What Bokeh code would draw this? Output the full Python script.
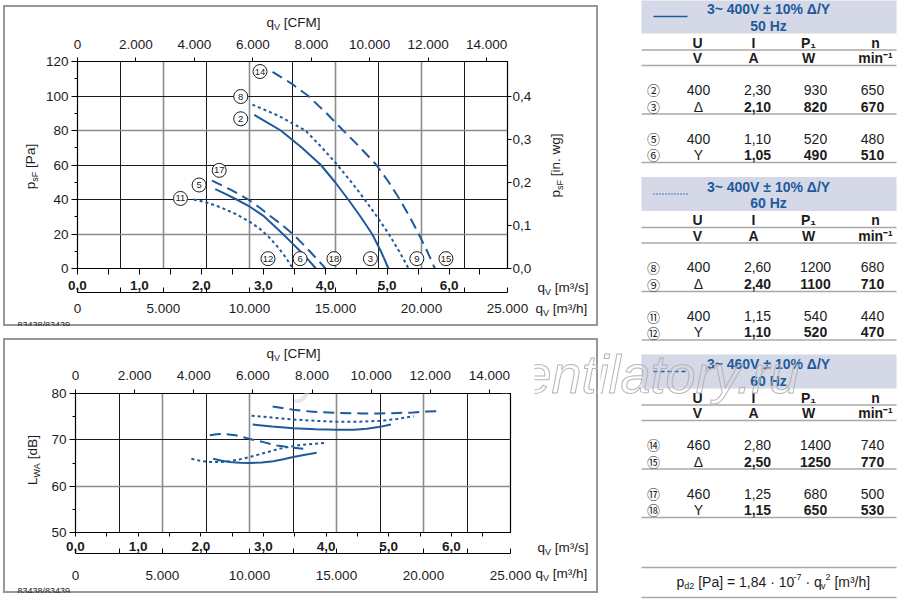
import math
from bokeh.plotting import figure
from bokeh.models import (Range1d, LinearAxis, FixedTicker, Label, Grid, Plot,
                          CustomJSTickFormatter, ColumnDataSource, Text)
from bokeh.layouts import row, column
from bokeh.embed import file_html
from bokeh.resources import INLINE
from bokeh.core.properties import value
try:
    from bokeh.models import HTMLLabel
except ImportError:
    HTMLLabel = None

# ------------------------------------------------------------------ data
Q_MAX = 25000.0            # m³/h at the right end of the q axes
M3H_PER_M3S = 3600.0
M3H_PER_CFM = 1.699011
PA_PER_INWG = 249.0889

ticks_m3h = [0, 5000, 10000, 15000, 20000, 25000]
minor_m3h = [2500, 7500, 12500, 17500, 22500]
ticks_m3s = [0, 1, 2, 3, 4, 5, 6]
minor_m3s = [0.5, 1.5, 2.5, 3.5, 4.5, 5.5, 6.5]
ticks_cfm = [0, 2000, 4000, 6000, 8000, 10000, 12000, 14000]
ticks_pa = [0, 20, 40, 60, 80, 100, 120]
minor_pa = [10, 30, 50, 70, 90, 110]
ticks_inwg = [0.0, 0.1, 0.2, 0.3, 0.4]
ticks_db = [50, 60, 70, 80]
minor_db = [55, 65, 75]
grid_q_dark = [2500, 7500, 12500, 17500, 22500]
grid_q_grey = [5000, 10000, 15000, 20000]
grid_pa_dark = [40, 60, 100]
grid_pa_grey = [20, 80]
grid_db_dark = [70]
grid_db_grey = [60]

# static pressure p_sF [Pa] over q_V [m³/h]
q_c2 = [10280, 11820, 13050, 14150, 14980, 15740, 16460, 17130, 17640, 18080]
p_c2 = [89, 80, 70, 60, 50, 40, 30, 20, 10, 0]
q_c8 = [10170, 11700, 13250, 14220, 15110, 15930, 16700, 17420, 18100, 18700, 19250]
p_c8 = [95, 88.5, 80, 70, 60, 50, 40, 30, 20, 10, 0]
q_c14 = [11340, 12400, 13420, 14480, 15450, 16450, 17380, 18100, 18740, 19310, 19840, 20330, 20780]
p_c14 = [114, 107.5, 100, 90, 80, 70, 60, 50, 40, 30, 20, 10, 0]
q_c5 = [8010, 8600, 9250, 10020, 10790, 11400, 11940, 12450, 12950, 13420, 13860]
p_c5 = [46, 43.3, 40, 35.8, 30.7, 25.1, 20, 15, 10, 5, 0]
q_c17 = [7820, 8900, 9930, 10560, 11170, 11860, 12520, 13020, 13500, 13970, 14420]
p_c17 = [51, 45.7, 40, 35.5, 30.7, 25.5, 20, 15, 10, 5, 0]
q_c11 = [6760, 7500, 8290, 9200, 10020, 10600, 11100, 11600, 12080, 12520]
p_c11 = [40, 38.3, 35.6, 31.6, 27, 23, 18.5, 13, 6.8, 0]

# sound power L_WA [dB] over q_V [m³/h]
q_l14 = [11330, 12000, 12520, 13500, 15020, 16500, 17510, 18500, 19430, 20200, 20780]
l_l14 = [77.2, 76.8, 76.5, 76.1, 75.8, 75.7, 75.7, 75.8, 75.9, 76.1, 76.2]
q_l8 = [10120, 11300, 12520, 13800, 15020, 16300, 17510, 18500, 19430]
l_l8 = [75.2, 74.8, 74.4, 74.1, 73.9, 73.9, 74.1, 74.5, 75.1]
q_l2 = [10180, 11300, 12520, 13800, 15020, 16000, 16740, 17500, 18130]
l_l2 = [73.3, 72.9, 72.5, 72.3, 72.2, 72.2, 72.4, 72.8, 73.3]
q_l17 = [7720, 8100, 8490, 9200, 10020, 10800, 11560, 12520, 13090]
l_l17 = [71.0, 71.2, 71.3, 71.0, 70.2, 69.5, 68.8, 68.3, 68.1]
q_l11 = [6660, 7150, 7720, 8290, 8870, 9450, 10020, 10600, 11170, 11750, 12330, 12900, 13670, 14440]
l_l11 = [65.9, 65.5, 65.2, 65.2, 65.4, 65.8, 66.3, 66.9, 67.5, 68.1, 68.5, 68.9, 69.1, 69.4]
q_l5 = [7910, 8400, 8870, 9450, 10020, 10700, 11370, 11950, 12520, 13200, 13860]
l_l5 = [65.9, 65.5, 65.2, 65.05, 65.0, 65.1, 65.4, 65.8, 66.3, 66.8, 67.2]

# operating point markers in the pressure chart
lab_txt = ["14", "8", "2", "17", "5", "11", "12", "6", "18", "3", "9", "15"]
lab_q = [10610, 9490, 9490, 8240, 7070, 5985, 11075, 12940, 14910, 17030, 19730, 21420]
lab_p = [114.2, 99.7, 86.8, 56.9, 48.4, 40.6, 5.7, 5.7, 5.7, 5.7, 5.7, 5.7]

# table
tbl_title = ["3~ 400V ± 10% Δ/Y", "3~ 400V ± 10% Δ/Y", "3~ 460V ± 10% Δ/Y"]
tbl_freq = ["50 Hz", "60 Hz", "60 Hz"]
tbl_style = ["solid", "dotted", "dashed"]
tbl_head1 = ["U", "I", "P₁", "n"]
tbl_head2 = ["V", "A", "W", "min⁻¹"]
tbl_num = [["②", "③", "⑤", "⑥"], ["⑧", "⑨", "⑪", "⑫"], ["⑭", "⑮", "⑰", "⑱"]]
tbl_U = [["400", "Δ", "400", "Y"], ["400", "Δ", "400", "Y"], ["460", "Δ", "460", "Y"]]
tbl_I = [["2,30", "2,10", "1,10", "1,05"], ["2,60", "2,40", "1,15", "1,10"], ["2,80", "2,50", "1,25", "1,15"]]
tbl_P = [["930", "820", "520", "490"], ["1200", "1100", "540", "520"], ["1400", "1250", "680", "650"]]
tbl_n = [["650", "670", "480", "510"], ["680", "710", "440", "470"], ["740", "770", "500", "530"]]
drawing_no = "83438/83439"
watermark = "ventilatory.ru"

# ------------------------------------------------------------------ style
FONT = "Liberation Sans"
INK = "#1c1c1c"
BLUE = "#1e5a9c"
GRID_DARK = "#1a1a1a"
GRID_GREY = "#8c8c8c"
BOX_GREY = "#979797"
BAND = "#d4d8e7"
SEP = "#a8a8a8"
WM_GREY = "#b4b4b4"
DASH = {"solid": "solid", "dotted": "3 3", "dashed": "11 6"}
LEG_DASH = {"solid": "solid", "dotted": "1 2", "dashed": "4 3"}
FMT_THOUS = "return tick == 0 ? '0' : (tick / 1000).toFixed(3);"
FMT_DEC1 = "return tick.toFixed(1).replace('.', ',');"
HAS_OUTLINE_T = "text_outline_color" in Text.properties()
NO_ALIGN = {"frame_align": False} if "frame_align" in Plot.properties() else {}
MID = 0.3465            # em distance from alphabetic baseline up to the text middle

EM = {" ": .278, "[": .278, "]": .278, ".": .278, ",": .278, "/": .278, "=": .584, "·": .278,
      "³": .333, "²": .333, "-": .333, "a": .556, "b": .556, "c": .5, "d": .556, "e": .556,
      "g": .556, "h": .556, "i": .222, "l": .222, "m": .833, "n": .556, "o": .556, "p": .556,
      "q": .556, "r": .333, "s": .5, "t": .278, "u": .556, "v": .5, "w": .722, "y": .5,
      "A": .667, "B": .667, "C": .722, "F": .611, "L": .556, "M": .833, "P": .667, "V": .667,
      "W": .944, "Y": .667}


def tw(s, size):
    return sum(EM.get(c, 0.556) for c in s) * size


def rich(p, x, y, parts, anchor="left", angle=0.0):
    """text pieces (text, px size, baseline shift) drawn as glyphs; (x, y) = page baseline"""
    total = sum(tw(t, s) for t, s, _ in parts)
    pos = -{"left": 0.0, "center": total / 2.0, "right": total}[anchor]
    for t, s, shift in parts:
        st = t.lstrip(" ")
        pos += tw(t[:len(t) - len(st)], s)
        d = shift - MID * s
        if angle == 0:
            lx, ly = x + pos, y + d
        else:
            lx, ly = x + d, y - pos
        p.text([lx], [ly], text=[st], angle=angle, text_font=value(FONT),
               text_font_size=f"{s}px", text_color=INK, text_align="left",
               text_baseline="middle")
        pos += tw(st, s)


WM_SIZE = 54
WM_BASE = 392
WM_X = [78, 494]


def wm_glyph(p, xs):
    r = p.text(xs, [WM_BASE - MID * WM_SIZE] * len(xs), text=[watermark] * len(xs),
               text_font=value(FONT), text_font_size=f"{WM_SIZE}px", text_font_style="italic",
               text_baseline="middle", text_align="left")
    if HAS_OUTLINE_T:
        r.glyph.text_color = (255, 255, 255, 0.0)
        r.glyph.text_outline_color = WM_GREY
    else:
        r.glyph.text_color = "#d6d6d6"
        r.glyph.text_alpha = 0.7
    return r


def wm_label(p, cls, wx, outline):
    lb = cls(x=(wx - 75) / 435 * Q_MAX, y=80 - (WM_BASE - MID * WM_SIZE - 393) / 139 * 30,
             text=watermark, text_font=FONT, text_font_size=f"{WM_SIZE}px",
             text_font_style="italic", text_baseline="middle", text_align="left")
    if outline and "text_outline_color" in cls.properties():
        lb.text_color = (255, 255, 255, 0.0)
        lb.text_outline_color = WM_GREY
    else:
        lb.text_color = "#d2d2d2"
        lb.text_alpha = 0.55
    p.add_layout(lb)
    return lb


def strip(x0, y0, w, h):
    """transparent figure whose data coordinates are page pixels"""
    s = figure(width=w, height=h, x_range=Range1d(x0, x0 + w), y_range=Range1d(y0 + h, y0),
               output_backend="svg", toolbar_location=None, title=None,
               x_axis_location=None, y_axis_location=None, min_border=0,
               outline_line_color=None, background_fill_alpha=0.0, border_fill_alpha=0.0,
               **NO_ALIGN)
    s.grid.visible = False
    return s


def add_axis(p, where, ticks, minor, rng, fmt, out, inn, mout, minn, standoff, bold=False):
    ax = LinearAxis(ticker=FixedTicker(ticks=ticks, minor_ticks=minor))
    if where in ("left", "right"):
        ax.y_range_name = rng
    else:
        ax.x_range_name = rng
    if fmt is not None:
        ax.formatter = CustomJSTickFormatter(code=fmt)
    ax.major_tick_out = out
    ax.major_tick_in = inn
    ax.minor_tick_out = mout
    ax.minor_tick_in = minn
    ax.major_label_standoff = standoff
    ax.major_label_text_font = FONT
    ax.major_label_text_font_size = "13.5px"
    ax.major_label_text_font_style = "bold" if bold else "normal"
    ax.major_label_text_color = INK
    ax.axis_line_color = "black"
    ax.major_tick_line_color = "black"
    ax.minor_tick_line_color = "black"
    p.add_layout(ax, where)
    return ax


def add_grid(p, dim, ticks, color, width):
    p.add_layout(Grid(dimension=dim, ticker=FixedTicker(ticks=ticks),
                      grid_line_color=color, grid_line_width=width))


def chart(w, h, yr, top, bottom, left, right):
    p = figure(width=w, height=h, x_range=Range1d(0, Q_MAX), y_range=Range1d(*yr),
               output_backend="svg", toolbar_location=None, title=None,
               x_axis_location=None, y_axis_location=None,
               min_border_left=left, min_border_right=right,
               min_border_top=top, min_border_bottom=bottom,
               background_fill_color="white", border_fill_alpha=0.0,
               outline_line_color="black", outline_line_width=1.2, **NO_ALIGN)
    p.grid.visible = False
    p.extra_x_ranges = {"ms": Range1d(0, Q_MAX / M3H_PER_M3S),
                        "cfm": Range1d(0, Q_MAX / M3H_PER_CFM)}
    add_grid(p, 0, grid_q_grey, GRID_GREY, 1.6)
    add_grid(p, 0, grid_q_dark, GRID_DARK, 1)
    return p


def q_parts(unit):
    return [("q", 13.5, 0), ("V", 9, 3), (" [" + unit + "]", 13.5, 0)]


BOX_STYLE = {"box-shadow": "inset 0 0 0 2px " + BOX_GREY}

# ------------------------------------------------------------------ pressure chart box
# box on page: x 3..598, y 5..326 ; plot frame: x 76..510, y 61..268
t1 = strip(3, 5, 595, 27)
l1 = strip(3, 32, 39, 285)
r1 = strip(534, 32, 64, 285)
b1 = strip(3, 317, 595, 9)
p1 = chart(492, 285, (0, 120), 29, 49, 34, 24)
p1.extra_y_ranges = {"inwg": Range1d(0, 120 / PA_PER_INWG)}
add_grid(p1, 1, grid_pa_grey, GRID_GREY, 1.6)
add_grid(p1, 1, grid_pa_dark, GRID_DARK, 1)
add_axis(p1, "left", ticks_pa, minor_pa, "default", None, 6, 0, 3, 0, 3)
add_axis(p1, "right", ticks_inwg, [], "inwg", FMT_DEC1, 4, 0, 0, 0, 1)
add_axis(p1, "above", ticks_cfm, [], "cfm", FMT_THOUS, 4, 0, 0, 0, 9)
add_axis(p1, "below", ticks_m3s, minor_m3s, "ms", FMT_DEC1, 6, 0, 6, 0, 6, bold=True)
add_axis(p1, "below", ticks_m3h, minor_m3h, "default", FMT_THOUS, 0, 5, 0, 5, 11)

for q, pv, st in [(q_c2, p_c2, "solid"), (q_c8, p_c8, "dotted"), (q_c14, p_c14, "dashed"),
                  (q_c5, p_c5, "solid"), (q_c17, p_c17, "dashed"), (q_c11, p_c11, "dotted")]:
    p1.line(q, pv, line_color=BLUE, line_width=2, line_dash=DASH[st])

lab_src = ColumnDataSource(dict(q=lab_q, p=lab_p, t=lab_txt))
p1.scatter("q", "p", source=lab_src, size=14, fill_color="white", line_color=INK, line_width=1)
p1.text("q", "p", text="t", source=lab_src, text_align="center", text_baseline="middle",
        text_font=value(FONT), text_font_size="9.5px", text_color=INK)

rich(t1, 293, 27, q_parts("CFM"), anchor="center")
rich(l1, 35, 166, [("p", 13.5, 0), ("sF", 9, 3), (" [Pa]", 13.5, 0)], anchor="center",
     angle=math.pi / 2)
rich(r1, 560, 165, [("p", 13.5, 0), ("sF", 9, 3), (" [in. wg]", 13.5, 0)], anchor="center",
     angle=math.pi / 2)
rich(r1, 537, 291.5, q_parts("m³/s"))
rich(r1, 535, 313, q_parts("m³/h"))
rich(b1, 17, 324.5, [(drawing_no, 9, 0)])

box1 = column(t1, row(l1, p1, r1), b1, margin=(5, 2, 8, 3), styles=BOX_STYLE)

# ------------------------------------------------------------------ sound chart box
# box on page: x 3..598, y 338..593 ; plot frame: x 75..510, y 393..532
t2 = strip(3, 338, 595, 24)
l2 = strip(3, 362, 39, 222)
r2 = strip(534, 362, 64, 222)
b2 = strip(3, 584, 595, 9)
p2 = chart(492, 222, (50, 80), 31, 52, 33, 24)
add_grid(p2, 1, grid_db_grey, GRID_GREY, 1.6)
add_grid(p2, 1, grid_db_dark, GRID_DARK, 1)
add_axis(p2, "left", ticks_db, minor_db, "default", None, 6, 0, 3, 0, 3)
add_axis(p2, "above", ticks_cfm, [], "cfm", FMT_THOUS, 4, 0, 0, 0, 10)
add_axis(p2, "below", ticks_m3s, minor_m3s, "ms", FMT_DEC1, 4, 0, 4, 0, 5, bold=True)
add_axis(p2, "below", ticks_m3h, minor_m3h, "default", FMT_THOUS, 0, 5, 0, 5, 17)

for q, lv, st in [(q_l14, l_l14, "dashed"), (q_l8, l_l8, "dotted"), (q_l2, l_l2, "solid"),
                  (q_l17, l_l17, "dashed"), (q_l11, l_l11, "dotted"), (q_l5, l_l5, "solid")]:
    p2.line(q, lv, line_color=BLUE, line_width=2, line_dash=DASH[st])

rich(t2, 293, 358, q_parts("CFM"), anchor="center")
rich(l2, 36.5, 459.5, [("L", 13.5, 0), ("WA", 9, 3), (" [dB]", 13.5, 0)], anchor="center",
     angle=math.pi / 2)
rich(r2, 537, 552, q_parts("m³/s"))
rich(r2, 535, 578, q_parts("m³/h"))
rich(b2, 17, 590.5, [(drawing_no, 9, 0)])

# watermark over the sound chart
if HTMLLabel is not None:
    wm_label(p2, HTMLLabel, WM_X[0], outline=False)
    wm_glyph(t2, [WM_X[1]])
else:
    wm_label(p2, Label, WM_X[0], outline=True)
    wm_glyph(t2, WM_X)
wm_label(p2, Label, WM_X[1], outline=True)
wm_glyph(r2, [WM_X[1]])

box2 = column(t2, row(l2, p2, r2), b2, margin=(4, 2, 6, 3), styles=BOX_STYLE)

# ------------------------------------------------------------------ table
pt = figure(width=300, height=599, x_range=Range1d(600, 900), y_range=Range1d(599, 0),
            output_backend="svg", toolbar_location=None, title=None,
            x_axis_location=None, y_axis_location=None,
            min_border=0, outline_line_color=None, background_fill_color="white",
            border_fill_color="white", **NO_ALIGN)
pt.grid.visible = False

STEP = 177.5
TL, TR = 641, 896
head_x = [697, 753, 808, 875]
col_x = [698, 757, 815, 872]
row_y = [89, 106, 138, 154]

norm = dict(x=[], y=[], t=[])
bold = dict(x=[], y=[], t=[])
nums = dict(x=[], y=[], t=[])
seps_y = []
for k in range(3):
    off = k * STEP
    pt.quad(left=TL, right=TR, top=off - 1, bottom=off + 33, fill_color=BAND, line_color=None)
    pt.line([653, 687], [off + 16, off + 16], line_color=BLUE, line_width=1.3,
            line_dash=LEG_DASH[tbl_style[k]])
    pt.text([768, 768], [off + 8.5, off + 25], text=[tbl_title[k], tbl_freq[k]],
            text_align="center", text_baseline="middle", text_font=value(FONT),
            text_font_size="14px", text_font_style="bold", text_color=BLUE)
    for j in range(4):
        bold["x"] += [head_x[j], head_x[j]]
        bold["y"] += [off + 42, off + 57.5]
        bold["t"] += [tbl_head1[j], tbl_head2[j]]
    seps_y += [off + 49.5, off + 65, off + 113.5, off + 162]
    for r in range(4):
        y = off + row_y[r]
        nums["x"].append(653); nums["y"].append(y); nums["t"].append(tbl_num[k][r])
        norm["x"].append(col_x[0]); norm["y"].append(y); norm["t"].append(tbl_U[k][r])
        tgt = bold if r % 2 == 1 else norm
        for j, col in enumerate([tbl_I, tbl_P, tbl_n]):
            tgt["x"].append(col_x[j + 1]); tgt["y"].append(y); tgt["t"].append(col[k][r])

seps_y += [567, 597]
pt.segment(x0=[TL] * len(seps_y), x1=[TR] * len(seps_y), y0=seps_y, y1=seps_y,
           line_color=SEP, line_width=1.5)
pt.text("x", "y", text="t", source=ColumnDataSource(norm), text_align="center",
        text_baseline="middle", text_font=value(FONT), text_font_size="14px", text_color=INK)
pt.text("x", "y", text="t", source=ColumnDataSource(bold), text_align="center",
        text_baseline="middle", text_font=value(FONT), text_font_size="14px",
        text_font_style="bold", text_color=INK)
pt.text("x", "y", text="t", source=ColumnDataSource(nums), text_align="center",
        text_baseline="middle", text_font=value("Noto Sans CJK JP"), text_font_size="13px",
        text_color=INK)

rich(pt, 676, 586, [("p", 14, 0), ("d2", 9, 3), (" [Pa] = 1,84 · 10", 14, 0), ("-7", 9, -6),
                    (" · q", 14, 0), ("v", 9, 3), ("2", 9, -6), (" [m³/h]", 14, 0)])
wm_glyph(pt, [WM_X[1]])

# ------------------------------------------------------------------ page
root = row(column(box1, box2), pt)
open("out.html", "w").write(file_html(root, INLINE))
